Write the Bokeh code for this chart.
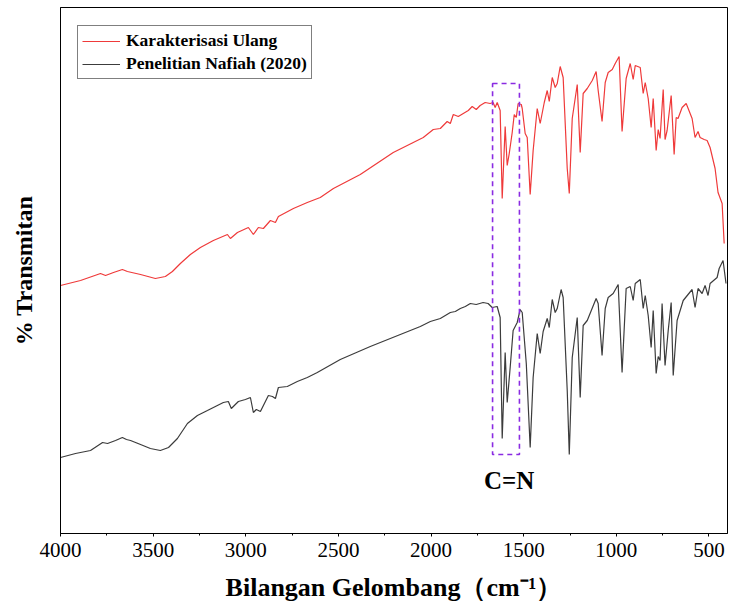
from bokeh.plotting import figure
from bokeh.models import Range1d, Legend, LegendItem, Label, FixedTicker
from bokeh.embed import file_html
from bokeh.resources import INLINE

# Wavenumber (cm-1) and transmittance (arbitrary offset %T)
red_wn = [4000, 3892, 3784, 3757, 3714, 3666, 3639, 3568, 3488, 3434, 3396, 3353, 3299, 3245,
          3175, 3099, 3083, 3045, 2986, 2959, 2932, 2905, 2867, 2840, 2824, 2743, 2668, 2598,
          2527, 2382, 2204, 2042, 1988, 1950, 1913, 1896, 1880, 1853, 1826, 1799, 1778, 1756,
          1735, 1708, 1681, 1665, 1654, 1643, 1627, 1616, 1600, 1589, 1578, 1562, 1551, 1540,
          1530, 1513, 1508, 1492, 1481, 1465, 1449, 1427, 1411, 1389, 1373, 1362, 1346, 1330,
          1319, 1303, 1287, 1265, 1254, 1238, 1211, 1195, 1179, 1157, 1130, 1109, 1098, 1077,
          1060, 1044, 1022, 1006, 985, 969, 947, 925, 909, 898, 871, 855, 844, 828, 812, 801,
          785, 774, 764, 747, 737, 726, 704, 688, 677, 667, 645, 623, 591, 575, 559, 548, 526,
          510, 494, 467, 451, 429, 418]
red_t = [49.6, 50.6, 52.0, 51.6, 52.2, 52.8, 52.4, 51.8, 51.0, 51.4, 52.4, 54.0, 55.8, 57.2,
         58.6, 59.8, 59.0, 60.2, 61.2, 59.8, 61.2, 61.0, 62.6, 62.2, 63.4, 65.0, 66.2, 67.2,
         69.0, 71.8, 76.2, 79.2, 80.8, 81.0, 82.4, 82.0, 83.8, 83.4, 84.0, 84.6, 85.4, 84.8,
         85.6, 86.2, 86.0, 86.2, 85.2, 86.2, 84.6, 67.0, 81.4, 73.6, 76.0, 80.2, 83.8, 83.2,
         86.0, 85.8, 85.0, 80.0, 79.2, 67.8, 76.6, 85.0, 82.0, 86.2, 88.6, 86.4, 91.2, 89.2,
         90.0, 93.4, 91.2, 73.0, 68.0, 83.0, 89.8, 76.2, 88.0, 89.0, 90.6, 92.4, 88.6, 82.4,
         90.2, 92.2, 92.8, 94.0, 95.4, 80.4, 91.0, 94.0, 90.8, 93.6, 93.2, 88.0, 90.2, 87.0,
         81.2, 87.0, 76.6, 80.8, 79.0, 88.8, 78.8, 80.6, 87.6, 75.8, 83.2, 83.0, 85.2, 86.0,
         83.0, 79.2, 80.4, 79.2, 78.8, 78.6, 77.2, 73.0, 68.2, 66.0, 58.0]

gray_wn = [4000, 3919, 3838, 3773, 3746, 3703, 3666, 3644, 3622, 3568, 3515, 3461, 3417, 3369,
           3315, 3261, 3207, 3121, 3094, 3078, 3040, 3002, 2975, 2959, 2943, 2921, 2878, 2856,
           2840, 2824, 2776, 2722, 2668, 2614, 2490, 2328, 2166, 2058, 2004, 1950, 1896, 1869,
           1842, 1815, 1788, 1756, 1719, 1692, 1670, 1643, 1627, 1616, 1600, 1589, 1573, 1557,
           1535, 1519, 1508, 1486, 1465, 1449, 1427, 1411, 1395, 1373, 1362, 1346, 1330, 1319,
           1298, 1287, 1265, 1254, 1238, 1211, 1195, 1179, 1157, 1109, 1098, 1077, 1060, 1044,
           1017, 990, 969, 947, 925, 909, 898, 871, 855, 844, 828, 812, 801, 785, 774, 764, 753,
           737, 720, 704, 693, 672, 639, 591, 575, 559, 537, 521, 505, 494, 456, 445, 424, 408]
gray_t = [15.2, 16.0, 16.6, 18.2, 18.0, 18.6, 19.2, 18.8, 18.6, 17.8, 17.0, 16.6, 17.2, 19.0,
          22.0, 23.6, 24.6, 26.2, 26.4, 25.0, 26.4, 26.8, 27.2, 24.2, 24.8, 24.4, 27.6, 27.4,
          27.0, 29.2, 29.4, 30.4, 31.2, 32.2, 34.8, 37.4, 39.8, 41.4, 42.4, 43.0, 44.2, 44.4,
          45.0, 45.4, 46.0, 45.8, 46.2, 46.0, 45.2, 45.4, 43.2, 19.0, 36.2, 26.2, 33.2, 40.6,
          42.2, 44.8, 44.2, 34.0, 17.2, 31.2, 40.0, 36.0, 40.4, 43.0, 41.2, 46.8, 44.2, 45.0,
          48.8, 47.2, 28.6, 15.8, 35.2, 43.2, 27.2, 41.6, 42.6, 47.0, 46.0, 35.6, 45.0, 47.2,
          48.0, 49.8, 32.2, 49.0, 49.4, 46.6, 50.0, 50.8, 45.0, 47.6, 43.6, 37.2, 44.6, 32.0,
          35.4, 34.6, 46.0, 33.6, 40.6, 46.2, 31.6, 42.6, 46.6, 48.8, 45.2, 49.0, 48.0, 49.6,
          47.6, 50.0, 51.2, 53.0, 54.6, 50.0]

series_names = ["Karakterisasi Ulang", "Penelitian Nafiah (2020)"]
x_ticks = [4000, 3500, 3000, 2500, 2000, 1500, 1000, 500]

# C=N highlight region
box_wn = [1668, 1523]
box_t = [15.8, 90.0]
annot_text = "C=N"
annot_pos = (1578, 10.6)

SERIF = "Liberation Serif"

p = figure(width=729, height=605, output_backend="svg", toolbar_location=None,
           x_range=Range1d(4000, 400), y_range=Range1d(0, 105.2),
           min_border_left=60, min_border_right=2, min_border_top=7, min_border_bottom=72)
p.background_fill_color = "white"
p.border_fill_color = "white"
p.outline_line_color = "black"
p.outline_line_width = 1
p.xgrid.visible = False
p.ygrid.visible = False

r1 = p.line(red_wn, red_t, line_color="#ef3a3a", line_width=1.2)
r2 = p.line(gray_wn, gray_t, line_color="#3c3c3c", line_width=1.2)

p.quad(left=box_wn[0], right=box_wn[1], bottom=box_t[0], top=box_t[1],
       fill_color=None, line_color="#8a2be2", line_width=1.6, line_dash="5 4")

p.add_layout(Label(x=annot_pos[0], y=annot_pos[1], text=annot_text,
                   text_font=SERIF, text_font_style="bold", text_font_size="25px",
                   text_align="center", text_baseline="middle", text_color="black"))

# x axis
xa = p.xaxis[0]
xa.ticker = FixedTicker(ticks=x_ticks, minor_ticks=[3750, 3250, 2750, 2250, 1750, 1250, 750])
xa.major_tick_in = 0
xa.major_tick_out = 3
xa.minor_tick_in = 0
xa.minor_tick_out = 2
xa.major_label_standoff = 6
xa.major_label_text_font = SERIF
xa.major_label_text_font_size = "21px"
xa.major_label_text_color = "black"
xa.axis_line_color = "black"
xa.axis_label = "Bilangan Gelombang（cm⁻¹）"
xa.axis_label_text_font = SERIF
xa.axis_label_text_font_style = "bold"
xa.axis_label_text_font_size = "26px"
xa.axis_label_text_color = "black"
xa.axis_label_standoff = 13

# y axis
ya = p.yaxis[0]
ya.ticker = FixedTicker(ticks=[])
ya.major_tick_in = 0
ya.major_tick_out = 0
ya.minor_tick_in = 0
ya.minor_tick_out = 0
ya.major_label_text_font_size = "0px"
ya.axis_line_color = "black"
ya.axis_label = "% Transmitan"
ya.axis_label_text_font = SERIF
ya.axis_label_text_font_style = "bold"
ya.axis_label_text_font_size = "24px"
ya.axis_label_text_color = "black"
ya.axis_label_standoff = 24

legend = Legend(items=[LegendItem(label=series_names[0], renderers=[r1]),
                       LegendItem(label=series_names[1], renderers=[r2])],
                location=(17, 454),
                label_text_font=SERIF, label_text_font_style="bold",
                label_text_font_size="17.5px", label_text_color="black",
                label_height=20, glyph_height=20, glyph_width=38,
                label_standoff=6, spacing=2, padding=4, margin=0,
                border_line_color="black", border_line_width=1,
                background_fill_alpha=1.0)
p.add_layout(legend)

open("out.html", "w").write(file_html(p, INLINE))
